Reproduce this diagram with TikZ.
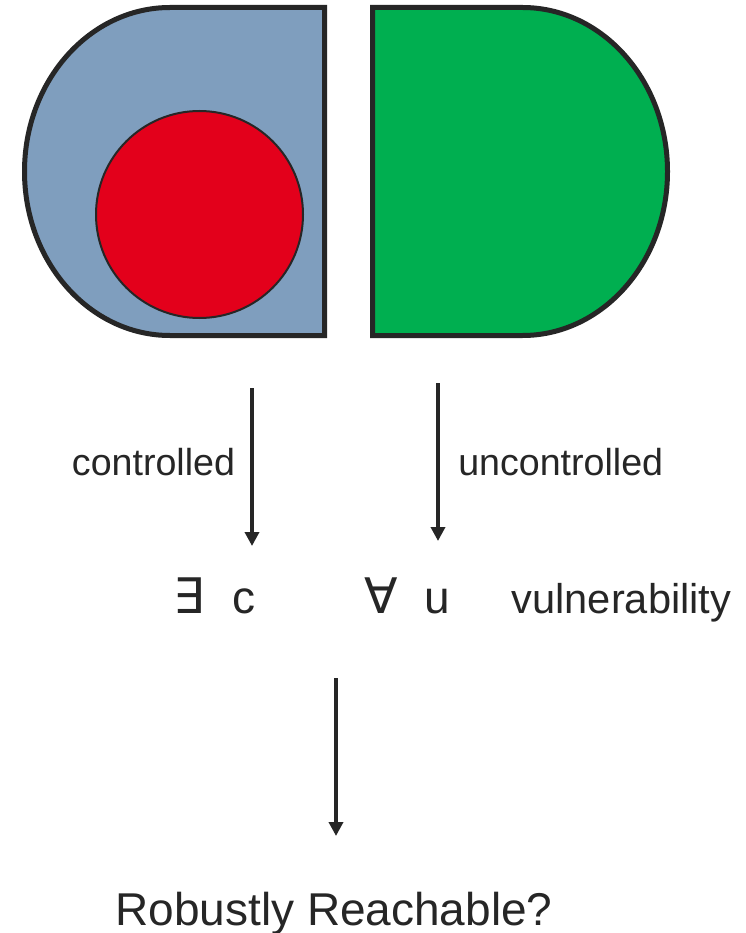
\documentclass[tikz,border=0pt]{standalone}
\usepackage{fontspec}
\setmainfont{Liberation Sans}
\newfontfamily\symfont{DejaVu Sans}
\usetikzlibrary{arrows.meta}

\definecolor{ink}{HTML}{262626}
\definecolor{ctrlblue}{HTML}{7F9EBE}
\definecolor{unctrlgreen}{HTML}{00AF50}
\definecolor{vulnred}{HTML}{E3001B}

\tikzset{
  region/.style={draw=ink, line width=5pt, line join=miter},
  flow/.style={draw=ink, line width=4.2pt, -{Triangle[width=14pt,length=14pt]}},
  lbl/.style={text=ink, inner sep=0pt, anchor=base, font=\fontsize{37.6}{44}\selectfont},
  sym/.style={text=ink, inner sep=0pt, anchor=base, font=\fontsize{46}{54}\selectfont},
  quant/.style={sym, font=\symfont\fontsize{49}{56}\selectfont},
}

\begin{document}
\begin{tikzpicture}[x=1pt, y=-1pt]
  % canvas
  \fill[white] (0,0) rectangle (745,933);
  \useasboundingbox (0,0) rectangle (745,933);

  % controlled region (blue, rounded on the left)
  \path[region, fill=ctrlblue]
    (324.5,7.5) -- (170,7.5)
    arc[start angle=270, end angle=90, x radius=145.5, y radius=164]
    -- (324.5,335.5) -- cycle;
  % vulnerability set inside it
  \draw[draw=ink, line width=2pt, fill=vulnred] (199.5,214.5) circle[radius=103.5];

  % uncontrolled region (green, rounded on the right)
  \path[region, fill=unctrlgreen]
    (372.5,7.5) -- (522.5,7.5)
    arc[start angle=270, end angle=450, x radius=145, y radius=164]
    -- (372.5,335.5) -- cycle;

  % arrow end points
  \coordinate (cstart) at (252,388);
  \coordinate (cend)   at (252,546);
  \coordinate (ustart) at (438,383);
  \coordinate (uend)   at (438,541);
  \coordinate (rstart) at (336,678);
  \coordinate (rend)   at (336,836);

  \draw[flow] (cstart) -- (cend);
  \draw[flow] (ustart) -- (uend);
  \draw[flow] (rstart) -- (rend);

  % labels
  \node[lbl] (ctrl)   at (153.5,475) {controlled};
  \node[lbl] (unctrl) at (560.7,475) {uncontrolled};

  \node[quant] (exists) at (188.5,613) {∃};
  \node[sym]   (cvar)   at (243.5,613) {c};
  \node[quant] (forall) at (381,613) {∀};
  \node[sym]   (uvar)   at (437,613) {u};
  \node[lbl, font=\fontsize{41.6}{50}\selectfont] (vuln) at (621.5,613) {vulnerability};

  \node[sym] (goal) at (334,925) {Robustly Reachable?};
\end{tikzpicture}
\end{document}
